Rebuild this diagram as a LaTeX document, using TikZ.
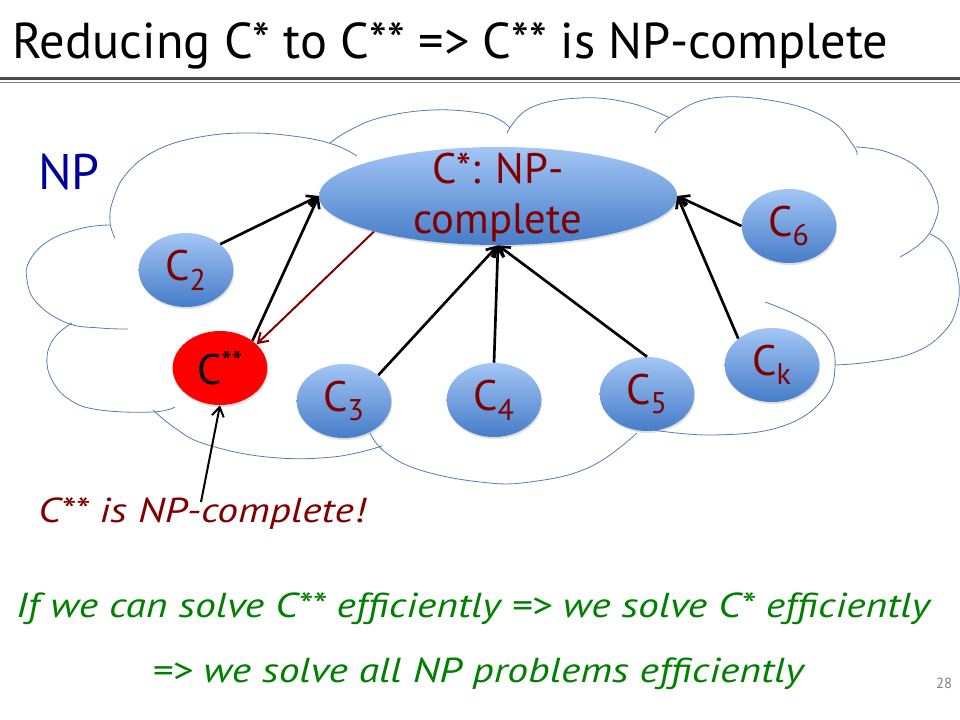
\documentclass[tikz,border=0pt]{standalone}
\usepackage{fontspec}
\setmainfont{PT Sans}
\newfontfamily\notefont[FakeStretch=1.2]{PT Sans}
\usetikzlibrary{shapes.geometric,arrows.meta,shadows}

\begin{document}
\begin{tikzpicture}[x=0.75pt,y=-0.75pt,>={Straight Barb[length=7pt,width=9pt]}]
    % Colors
    \definecolor{node top}{RGB}{163,198,245}
    \definecolor{node bottom}{RGB}{70,124,200}
    \definecolor{cloud line}{RGB}{85,125,175}
    \colorlet{label red}{red!50!black}
    \colorlet{np blue}{blue!60!black}
    \colorlet{note green}{green!50!black}

    % Styles
    \tikzstyle{problem} = [ellipse,minimum width=71pt,minimum height=55.5pt,inner sep=0pt,
        top color=node top,bottom color=node bottom,
        drop shadow={opacity=0.25,shadow xshift=0.6pt,shadow yshift=-1.5pt},
        text=label red,font=\fontsize{32}{38}\selectfont]
    \tikzstyle{important line} = [line width=2pt,->]
    \tikzstyle{cloud bump} = [cloud line,line width=0.6pt]
    \tikzstyle{note} = [anchor=base,inner sep=0pt,font=\notefont\itshape\fontsize{26}{31}\selectfont]

    \useasboundingbox (0,0) rectangle (960,720);

    %%% Title
    \node[anchor=base west,inner sep=0pt,font=\fontsize{37.8}{45}\selectfont] (title) at (12,59)
        {Reducing C* to C** => C** is NP-complete};
    \draw[gray!60!black,line width=2.2pt] (0,78.5) -- (960,78.5);
    \draw[gray,line width=0.8pt] (0,82.5) -- (960,82.5);
    %%%

    %%% NP cloud
    \draw[cloud bump] plot[smooth,tension=0.7] coordinates {(115,238) (110,222) (113,200) (127,173) (157,150) (200,137) (250,133) (300,137) (335,145) (357,156)};
    \draw[cloud bump] plot[smooth,tension=0.7] coordinates {(330,143) (350,130) (383,117) (433,110) (480,113) (500,120) (510,128)};
    \draw[cloud bump] plot[smooth,tension=0.7] coordinates {(507,133) (530,108) (580,98) (630,103) (670,118)};
    \draw[cloud bump] plot[smooth,tension=0.7] coordinates {(655,133) (670,117) (713,98) (780,102) (830,120) (853,145) (857,155)};
    \draw[cloud bump] plot[smooth,tension=0.7] coordinates {(856,147) (887,152) (920,170) (937,200) (935,222) (922,242) (900,257)};
    \draw[cloud bump] plot[smooth,tension=0.7] coordinates {(930,234) (947,247) (958,277) (957,307) (943,333) (913,353) (870,362) (835,365)};
    \draw[cloud bump] plot[smooth,tension=0.7] coordinates {(765,302) (800,317) (827,337) (835,367) (823,400) (780,427) (713,435) (653,430)};
    \draw[cloud bump] plot[smooth,tension=0.7] coordinates {(637,433) (590,467) (530,482) (480,482) (420,470) (385,452) (370,433)};
    \draw[cloud bump] plot[smooth,tension=0.7] coordinates {(382,446) (333,457) (267,457) (205,444) (175,428) (153,410)};
    \draw[cloud bump] plot[smooth,tension=0.7] coordinates {(175,407) (153,412) (100,410) (70,400) (52,380) (47,357) (55,337) (72,323)};
    \draw[cloud bump] plot[smooth,tension=0.7] coordinates {(128,329) (100,328) (67,323) (37,303) (27,280) (30,260) (50,240) (83,228) (110,225)};

    \node[anchor=base west,inner sep=0pt,text=np blue,font=\fontsize{37.5}{45}\selectfont] (np) at (38,190) {NP};
    %%%

    %%% Problems
    \node[problem,minimum width=268.5pt,minimum height=73.5pt,
        label={[text=label red,font=\fontsize{32}{37.5}\selectfont,align=center,yshift=-1pt]center:C*: NP-\\complete}]
        (cstar) at (498,196) {};
    \node[problem] (c2) at (186,270) {C\textsubscript{2}};
    \node[problem,shading=axis,top color=red,bottom color=red,text=black] (cstarstar) at (220,368) {C\textsuperscript{**}};
    \node[problem] (c3) at (344,401) {C\textsubscript{3}};
    \node[problem] (c4) at (494,400) {C\textsubscript{4}};
    \node[problem] (c5) at (647,394) {C\textsubscript{5}};
    \node[problem] (c6) at (789,226) {C\textsubscript{6}};
    \node[problem] (ck) at (772,365) {C\textsubscript{k}};
    %%%

    %%% Reductions
    \draw[important line] (c2.37) -- (cstar.west);
    \draw[important line] (cstarstar.40) -- (cstar.west);
    \draw[label red,line width=1.5pt,->] (cstar.196) -- (cstarstar.33);
    \foreach \from/\angle in {c3/37, c4/north, c5/north}
    {
        \draw[important line] (\from.\angle) -- (cstar.south);
    }
    \draw[important line] (ck.142) -- (cstar.east);
    \draw[important line] (c6.west) -- (cstar.east);
    %%%

    %%% Notes
    \node[note,anchor=base west,text=label red] (claim) at (38,522) {C** is NP-complete!};
    \coordinate (claim tail) at (201,502);
    \draw[line width=1.5pt,->] (claim tail) -- (cstarstar.south);

    \node[note,text=note green] (step one) at (473,617)
        {If we can solve C** efficiently => we solve C* efficiently};
    \node[note,text=note green] (step two) at (478,682)
        {=> we solve all NP problems efficiently};
    \node[anchor=base,inner sep=0pt,text=gray,font=\fontsize{11}{13}\selectfont] (page) at (944,688) {28};
    %%%
\end{tikzpicture}
\end{document}
